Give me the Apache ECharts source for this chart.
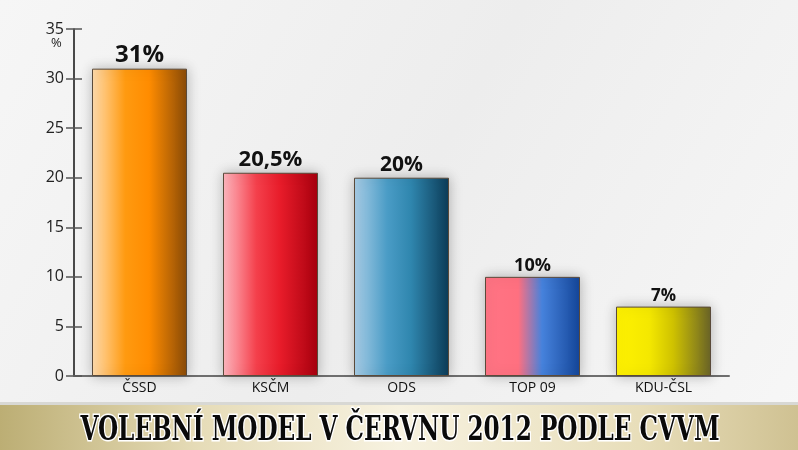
<!DOCTYPE html>
<html>
<head>
<meta charset="utf-8">
<script src="https://cdn.jsdelivr.net/npm/echarts@6/dist/echarts.min.js"></script>
<style>html,body{margin:0;padding:0;}#c{width:798px;height:450px;}</style>
</head>
<body>
<div id="c"></div>
<script>
const categories = ['ČSSD', 'KSČM', 'ODS', 'TOP 09', 'KDU-ČSL'];
const values = [31, 20.5, 20, 10, 7];
const valueLabels = ['31%', '20,5%', '20%', '10%', '7%'];
const labelSizes = [24, 22, 21, 18, 17];
const barColors = [
  ['#ffdcae', '#ff9a10', '#ff8c00', '#8a4b08'],
  ['#ffb8c0', '#f4404c', '#e81c2a', '#a8000e'],
  ['#a9cde6', '#4a9cc6', '#2f86ae', '#0c3c58'],
  ['#ff7484', '#ff7080', '#4682dc', '#14469a'],
  ['#fff200', '#f4e800', '#cfc200', '#6a6428']
];
const yTicks = { min: 0, max: 35, interval: 5 };
const title = 'VOLEBNÍ MODEL V ČERVNU 2012 PODLE CVVM';

const chart = echarts.init(document.getElementById('c'));
const data = values.map((v, i) => ({
  value: v,
  itemStyle: {
    color: new echarts.graphic.LinearGradient(0, 0, 1, 0, [
      { offset: 0, color: barColors[i][0] },
      { offset: 0.35, color: barColors[i][1] },
      { offset: 0.6, color: barColors[i][2] },
      { offset: 1, color: barColors[i][3] }
    ])
  },
  label: { formatter: valueLabels[i], fontSize: labelSizes[i] }
}));

chart.setOption({
  backgroundColor: new echarts.graphic.LinearGradient(0, 0, 1, 1, [
    { offset: 0, color: '#f6f6f6' },
    { offset: 0.5, color: '#ededed' },
    { offset: 1, color: '#f7f7f7' }
  ]),
  animation: false,
  grid: { left: 74, right: 69, top: 29, bottom: 74 },
  xAxis: {
    type: 'category',
    data: categories,
    axisLine: { lineStyle: { color: '#6e6e6e', width: 2 } },
    axisTick: { inside: true, length: 9, lineStyle: { color: '#555', width: 1.5 } },
    axisLabel: { color: '#111', fontSize: 14, fontFamily: 'Open Sans', margin: 5 }
  },
  yAxis: [{
    type: 'value',
    min: yTicks.min, max: yTicks.max, interval: yTicks.interval,
    axisLine: { show: true, lineStyle: { color: '#111', width: 1.5 } },
    axisTick: { show: true, length: 8, lineStyle: { color: '#555', width: 1.5 } },
    axisLabel: { color: '#222', fontSize: 16, fontFamily: 'Open Sans', margin: 10 },
    splitLine: { show: false }
  }, {
    type: 'value', position: 'left',
    min: yTicks.min, max: yTicks.max, interval: yTicks.interval,
    axisLine: { show: false },
    axisTick: { show: true, inside: true, length: 8, lineStyle: { color: '#555', width: 1.5 } },
    axisLabel: { show: false },
    splitLine: { show: false }
  }],
  series: [{
    type: 'bar',
    barWidth: 95,
    data: data,
    itemStyle: {
      borderColor: '#5a4a3a', borderWidth: 1,
      shadowBlur: 12, shadowColor: 'rgba(0,0,0,0.25)', shadowOffsetX: 0, shadowOffsetY: 0
    },
    label: {
      show: true, position: 'top', distance: 2,
      color: '#111', fontWeight: 'bold', fontFamily: 'Open Sans'
    }
  }],
  graphic: [
    { type: 'text', left: 51, top: 37, style: { text: '%', fill: '#222', font: '13px "Open Sans"' } },
    { type: 'rect', shape: { x: 0, y: 404, width: 798, height: 46 },
      style: { fill: new echarts.graphic.LinearGradient(0, 0, 1, 0, [
        { offset: 0, color: '#bcae74' },
        { offset: 0.25, color: '#e6dcb8' },
        { offset: 0.5, color: '#f7f2e0' },
        { offset: 0.8, color: '#e8deba' },
        { offset: 1, color: '#cfc192' }
      ]) } },
    { type: 'rect', shape: { x: 0, y: 402, width: 798, height: 3 },
      style: { fill: '#d8d8d4' } },
    { type: 'text', x: 400, y: 431, scaleX: 0.78, scaleY: 1, originX: 0, originY: 0,
      style: { text: title, fill: '#0a0a0a', stroke: '#ffffff', lineWidth: 3,
        font: 'bold 33px "DejaVu Serif Condensed"', align: 'center', verticalAlign: 'middle',
        shadowBlur: 3, shadowColor: 'rgba(0,0,0,0.5)' } }
  ]
});
</script>
</body>
</html>
